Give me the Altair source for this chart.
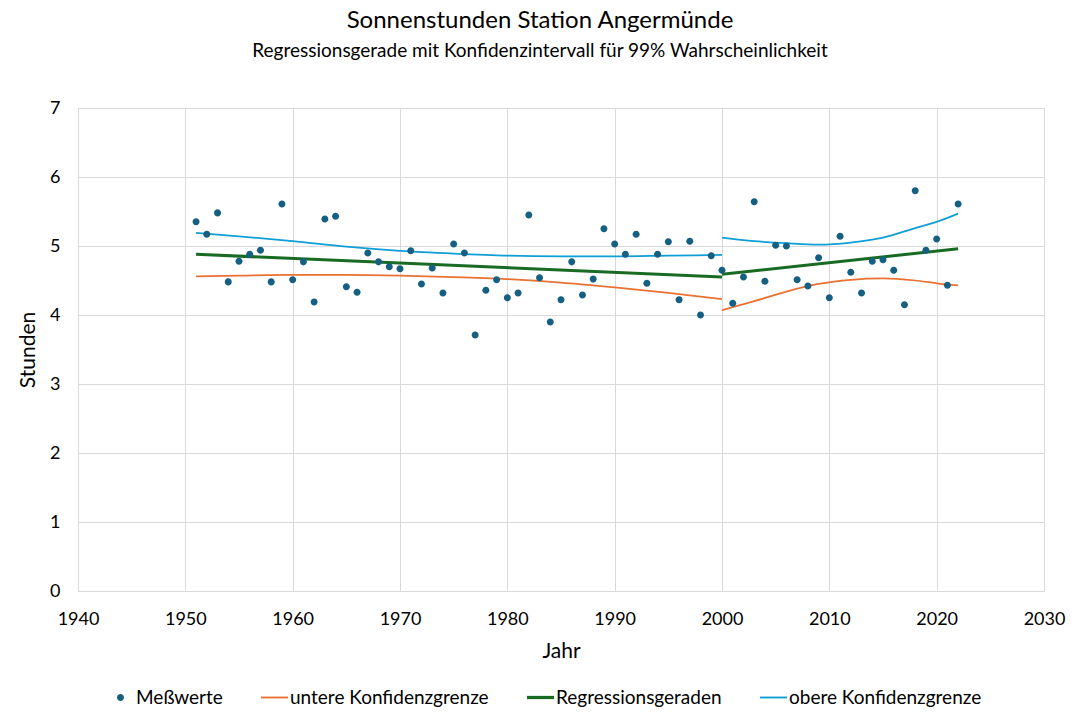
import altair as alt
import pandas as pd

years = list(range(1951, 2023))
values = [5.35, 5.17, 5.48, 4.48, 4.78, 4.88, 4.94, 4.48, 5.61, 4.51,
          4.77, 4.19, 5.39, 5.43, 4.41, 4.33, 4.90, 4.77, 4.70, 4.67,
          4.93, 4.45, 4.68, 4.32, 5.03, 4.90, 3.71, 4.36, 4.51, 4.25,
          4.32, 5.45, 4.54, 3.90, 4.22, 4.77, 4.29, 4.52, 5.25, 5.03,
          4.88, 5.17, 4.46, 4.88, 5.06, 4.22, 5.07, 4.00, 4.86, 4.65,
          4.17, 4.55, 5.64, 4.49, 5.01, 5.00, 4.51, 4.42, 4.83, 4.25,
          5.14, 4.62, 4.32, 4.78, 4.80, 4.65, 4.15, 5.80, 4.94, 5.10,
          4.43, 5.61]

reg_years_1 = [1951, 2000]
reg_vals_1 = [4.88, 4.55]
reg_years_2 = [2000, 2022]
reg_vals_2 = [4.59, 4.96]

ci_years_1 = [1951, 1955, 1960, 1965, 1970, 1975, 1980, 1985, 1990, 1995, 2000]
lower_1 = [4.56, 4.57, 4.58, 4.58, 4.57, 4.55, 4.52, 4.47, 4.40, 4.32, 4.23]
upper_1 = [5.19, 5.14, 5.07, 4.99, 4.93, 4.89, 4.86, 4.85, 4.85, 4.86, 4.87]

ci_years_2 = [2000, 2003, 2006, 2009, 2012, 2015, 2018, 2020, 2022]
lower_2 = [4.07, 4.20, 4.34, 4.45, 4.51, 4.53, 4.50, 4.46, 4.43]
upper_2 = [5.12, 5.07, 5.04, 5.02, 5.05, 5.12, 5.26, 5.35, 5.47]

series_order = ["Meßwerte", "untere Konfidenzgrenze", "Regressionsgeraden", "obere Konfidenzgrenze"]
series_colors = ["#156082", "#E97132", "#196B24", "#0F9ED5"]
legend_shapes = [
    "M-0.26,0A0.26,0.26 0 1,1 0.26,0A0.26,0.26 0 1,1 -0.26,0Z",
    "M-1,-0.07L1,-0.07L1,0.07L-1,0.07Z",
    "M-1,-0.12L1,-0.12L1,0.12L-1,0.12Z",
    "M-1,-0.07L1,-0.07L1,0.07L-1,0.07Z",
]

FONT = "Lato"

points = pd.DataFrame({"year": years, "value": values, "series": "Meßwerte"})

rows = []
for y, v in zip(reg_years_1, reg_vals_1):
    rows.append({"year": y, "value": v, "series": "Regressionsgeraden", "seg": "r1"})
for y, v in zip(reg_years_2, reg_vals_2):
    rows.append({"year": y, "value": v, "series": "Regressionsgeraden", "seg": "r2"})
for y, v in zip(ci_years_1, lower_1):
    rows.append({"year": y, "value": v, "series": "untere Konfidenzgrenze", "seg": "l1"})
for y, v in zip(ci_years_2, lower_2):
    rows.append({"year": y, "value": v, "series": "untere Konfidenzgrenze", "seg": "l2"})
for y, v in zip(ci_years_1, upper_1):
    rows.append({"year": y, "value": v, "series": "obere Konfidenzgrenze", "seg": "u1"})
for y, v in zip(ci_years_2, upper_2):
    rows.append({"year": y, "value": v, "series": "obere Konfidenzgrenze", "seg": "u2"})
lines = pd.DataFrame(rows)

x_enc = alt.X("year:Q", scale=alt.Scale(domain=[1940, 2030], nice=False),
              axis=alt.Axis(values=list(range(1940, 2031, 10)), format="d", title="Jahr"))
y_enc = alt.Y("value:Q", scale=alt.Scale(domain=[0, 7], nice=False),
              axis=alt.Axis(values=list(range(0, 8)), title="Stunden"))
color_scale = alt.Scale(domain=series_order, range=series_colors)

ci_layer = alt.Chart(lines).transform_filter(
    alt.datum.series != "Regressionsgeraden"
).mark_line(strokeWidth=1.75, interpolate="monotone").encode(
    x=x_enc, y=y_enc,
    color=alt.Color("series:N", scale=color_scale, legend=None),
    detail="seg:N",
)

reg_layer = alt.Chart(lines).transform_filter(
    alt.datum.series == "Regressionsgeraden"
).mark_line(strokeWidth=3).encode(
    x=x_enc, y=y_enc,
    color=alt.Color("series:N", scale=color_scale, legend=None),
    detail="seg:N",
)

legend = alt.Legend(title=None, orient="none", direction="horizontal",
                    legendX=29, legendY=576,
                    symbolSize=729, labelFontSize=19, labelFont=FONT,
                    labelColor="#000000", columnPadding=38, labelOffset=2,
                    labelLimit=400, gridAlign="none",
                    symbolStrokeWidth=0)

point_layer = alt.Chart(points).mark_point(filled=True, size=729, opacity=1).encode(
    x=x_enc, y=y_enc,
    color=alt.Color("series:N", scale=color_scale, legend=legend),
    shape=alt.Shape("series:N", scale=alt.Scale(domain=series_order, range=legend_shapes), legend=legend),
)

chart = alt.layer(ci_layer, reg_layer, point_layer).resolve_legend(
    color="independent", shape="independent"
).properties(
    width=966, height=483,
    autosize=alt.AutoSizeParams(type="none"),
    padding={"left": 70, "top": 100, "right": 25, "bottom": 120},
    title=alt.TitleParams(
        text="Sonnenstunden Station Angermünde",
        subtitle="Regressionsgerade mit Konfidenzintervall für 99% Wahrscheinlichkeit",
        fontSize=24, subtitleFontSize=19, font=FONT, subtitleFont=FONT,
        fontWeight="normal", color="#000000", subtitleColor="#000000",
        anchor="middle", dx=-21, offset=38, subtitlePadding=9,
    ),
).configure_view(
    stroke="#d9d9d9", strokeWidth=1,
).configure_axis(
    grid=True, gridColor="#d9d9d9", gridWidth=1,
    domain=False, ticks=False, labelFlush=False,
    labelFont=FONT, labelFontSize=18, labelColor="#000000",
    titleFont=FONT, titleFontSize=21, titleFontWeight="normal", titleColor="#000000",
).configure_axisY(
    labelPadding=18, titlePadding=11,
).configure_axisX(
    labelPadding=19, titlePadding=12,
)

chart.save("out.html", embed_options={"renderer": "svg", "actions": False})
